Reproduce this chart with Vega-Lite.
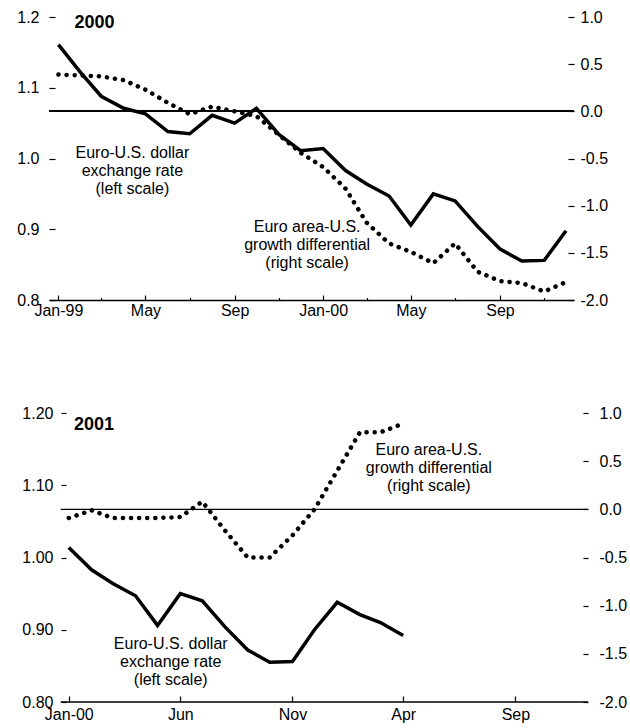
{
  "$schema": "https://vega.github.io/schema/vega-lite/v6.json",
  "padding": {"left": 16, "top": 9, "right": 5, "bottom": 5},
  "background": "white",
  "config": {
    "view": {"stroke": null},
    "font": "Liberation Sans",
    "axis": {"labelFont": "Liberation Sans", "labelFontSize": 16, "labelColor": "black", "tickColor": "black", "grid": false, "labelOverlap": false, "labelFlush": false, "labelBound": false, "tickWidth": 1.2}
  },
  "datasets": {
    "p1": [
      {"date": "1999-01-01", "rate": 1.161, "diff": 0.39},
      {"date": "1999-02-01", "rate": 1.121, "diff": 0.38},
      {"date": "1999-03-01", "rate": 1.088, "diff": 0.37},
      {"date": "1999-04-01", "rate": 1.071, "diff": 0.33},
      {"date": "1999-05-01", "rate": 1.063, "diff": 0.23},
      {"date": "1999-06-01", "rate": 1.038, "diff": 0.09},
      {"date": "1999-07-01", "rate": 1.035, "diff": -0.03},
      {"date": "1999-08-01", "rate": 1.061, "diff": 0.05},
      {"date": "1999-09-01", "rate": 1.050, "diff": 0.0},
      {"date": "1999-10-01", "rate": 1.071, "diff": -0.05},
      {"date": "1999-11-01", "rate": 1.034, "diff": -0.25},
      {"date": "1999-12-01", "rate": 1.011, "diff": -0.44},
      {"date": "2000-01-01", "rate": 1.014, "diff": -0.59},
      {"date": "2000-02-01", "rate": 0.983, "diff": -0.82},
      {"date": "2000-03-01", "rate": 0.964, "diff": -1.18},
      {"date": "2000-04-01", "rate": 0.947, "diff": -1.40},
      {"date": "2000-05-01", "rate": 0.906, "diff": -1.49},
      {"date": "2000-06-01", "rate": 0.950, "diff": -1.61},
      {"date": "2000-07-01", "rate": 0.940, "diff": -1.40},
      {"date": "2000-08-01", "rate": 0.904, "diff": -1.70},
      {"date": "2000-09-01", "rate": 0.872, "diff": -1.80},
      {"date": "2000-10-01", "rate": 0.855, "diff": -1.82},
      {"date": "2000-11-01", "rate": 0.856, "diff": -1.91},
      {"date": "2000-12-01", "rate": 0.898, "diff": -1.81}
    ],
    "p2": [
      {"date": "2000-01-01", "rate": 1.014, "diff": -0.09},
      {"date": "2000-02-01", "rate": 0.983, "diff": -0.01},
      {"date": "2000-03-01", "rate": 0.964, "diff": -0.09},
      {"date": "2000-04-01", "rate": 0.947, "diff": -0.09},
      {"date": "2000-05-01", "rate": 0.906, "diff": -0.09},
      {"date": "2000-06-01", "rate": 0.950, "diff": -0.08},
      {"date": "2000-07-01", "rate": 0.940, "diff": 0.08},
      {"date": "2000-08-01", "rate": 0.904, "diff": -0.22},
      {"date": "2000-09-01", "rate": 0.872, "diff": -0.50},
      {"date": "2000-10-01", "rate": 0.855, "diff": -0.50},
      {"date": "2000-11-01", "rate": 0.856, "diff": -0.27},
      {"date": "2000-12-01", "rate": 0.900, "diff": 0.0},
      {"date": "2001-01-01", "rate": 0.938, "diff": 0.40},
      {"date": "2001-02-01", "rate": 0.921, "diff": 0.80},
      {"date": "2001-03-01", "rate": 0.910, "diff": 0.80},
      {"date": "2001-04-01", "rate": 0.892, "diff": 0.89}
    ],
    "span2": [{"start": "1999-12-21", "end": "2001-12-09", "rate": 0.8, "diff": 0}],
    "notes1": [
      {"date": "1999-04-13", "rate": 1.0078, "label": "Euro-U.S. dollar\nexchange rate\n(left scale)"},
      {"date": "1999-12-10", "rate": 0.9032, "label": "Euro area-U.S.\ngrowth differential\n(right scale)"}
    ],
    "title1": [{"date": "1999-01-23", "rate": 1.1915, "label": "2000"}],
    "notes2": [
      {"date": "2000-05-19", "rate": 0.8806, "label": "Euro-U.S. dollar\nexchange rate\n(left scale)"},
      {"date": "2001-05-06", "rate": 1.1486, "label": "Euro area-U.S.\ngrowth differential\n(right scale)"}
    ],
    "title2": [{"date": "2000-01-08", "rate": 1.1833, "label": "2001"}]
  },
  "concat": [
    {
      "width": 525,
      "height": 283,
      "resolve": {"scale": {"y": "independent"}},
      "layer": [
        {
          "layer": [
            {
              "data": {"name": "p1"},
              "mark": {"type": "rule", "color": "black", "strokeWidth": 1},
              "encoding": {"y": {"datum": 0, "type": "quantitative"}}
            },
            {
              "data": {"name": "p1"},
              "mark": {"type": "line", "color": "black", "strokeWidth": 4.5, "strokeDash": [0.1, 8], "strokeCap": "round"},
              "encoding": {
                "x": {"field": "date", "type": "temporal"},
                "y": {"field": "diff", "type": "quantitative", "scale": {"domain": [-2, 1], "nice": false, "zero": false},
                  "axis": {"orient": "right", "title": null, "domain": false,
                    "values": [-2, -1.75, -1.5, -1.25, -1, -0.75, -0.5, -0.25, 0, 0.25, 0.5, 0.75, 1],
                    "labelExpr": "abs(datum.value*2 - round(datum.value*2)) < 0.001 ? replace(format(datum.value, '.1f'), '\u2212', '-') : ''",
                    "tickSize": -6,
                    "tickDash": {"condition": {"test": "abs(datum.value*2 - round(datum.value*2)) < 0.001", "value": [6, 0]}, "value": [0, 3, 2.5, 20]},
                    "labelPadding": 12}}
              }
            }
          ]
        },
        {
          "layer": [
            {
              "data": {"name": "p1"},
              "mark": {"type": "line", "color": "black", "strokeWidth": 3.5},
              "encoding": {
                "x": {"field": "date", "type": "temporal",
                  "scale": {"type": "utc", "domain": [{"year": 1998, "month": 12, "date": 19, "utc": true}, {"year": 2000, "month": 12, "date": 12, "utc": true}]},
                  "axis": {"title": null, "orient": "bottom", "domainColor": "black", "domainWidth": 1.5,
                    "values": [
                      {"year": 1999, "month": 1, "date": 1, "utc": true}, {"year": 1999, "month": 2, "date": 1, "utc": true},
                      {"year": 1999, "month": 3, "date": 1, "utc": true}, {"year": 1999, "month": 4, "date": 1, "utc": true},
                      {"year": 1999, "month": 5, "date": 1, "utc": true}, {"year": 1999, "month": 6, "date": 1, "utc": true},
                      {"year": 1999, "month": 7, "date": 1, "utc": true}, {"year": 1999, "month": 8, "date": 1, "utc": true},
                      {"year": 1999, "month": 9, "date": 1, "utc": true}, {"year": 1999, "month": 10, "date": 1, "utc": true},
                      {"year": 1999, "month": 11, "date": 1, "utc": true}, {"year": 1999, "month": 12, "date": 1, "utc": true},
                      {"year": 2000, "month": 1, "date": 1, "utc": true}, {"year": 2000, "month": 2, "date": 1, "utc": true},
                      {"year": 2000, "month": 3, "date": 1, "utc": true}, {"year": 2000, "month": 4, "date": 1, "utc": true},
                      {"year": 2000, "month": 5, "date": 1, "utc": true}, {"year": 2000, "month": 6, "date": 1, "utc": true},
                      {"year": 2000, "month": 7, "date": 1, "utc": true}, {"year": 2000, "month": 8, "date": 1, "utc": true},
                      {"year": 2000, "month": 9, "date": 1, "utc": true}, {"year": 2000, "month": 10, "date": 1, "utc": true},
                      {"year": 2000, "month": 11, "date": 1, "utc": true}, {"year": 2000, "month": 12, "date": 1, "utc": true}
                    ],
                    "labelExpr": "utcmonth(datum.value) % 4 == 0 ? utcFormat(datum.value, utcmonth(datum.value) == 0 ? '%b-%y' : '%b') : ''",
                    "tickSize": -5,
                    "tickDash": {"condition": {"test": "utcmonth(datum.value) % 4 == 0", "value": [5, 0]}, "value": [2.5, 20]},
                    "labelPadding": 7}},
                "y": {"field": "rate", "type": "quantitative", "scale": {"domain": [0.8, 1.2], "nice": false, "zero": false},
                  "axis": {"orient": "left", "title": null, "domain": false,
                    "values": [0.8, 0.85, 0.9, 0.95, 1.0, 1.05, 1.1, 1.15, 1.2],
                    "labelExpr": "abs(datum.value*10 - round(datum.value*10)) < 0.001 ? format(datum.value, '.1f') : ''",
                    "tickSize": -6,
                    "tickDash": {"condition": {"test": "abs(datum.value*10 - round(datum.value*10)) < 0.001", "value": [6, 0]}, "value": [2.5, 20]},
                    "labelPadding": 16}}
              }
            },
            {
              "data": {"name": "notes1"},
              "mark": {"type": "text", "fontSize": 16, "lineBreak": "\n", "lineHeight": 18, "align": "center", "baseline": "middle", "color": "black", "font": "Liberation Sans"},
              "encoding": {
                "x": {"field": "date", "type": "temporal"},
                "y": {"field": "rate", "type": "quantitative"},
                "text": {"field": "label"}
              }
            },
            {
              "data": {"name": "title1"},
              "mark": {"type": "text", "fontSize": 18, "fontWeight": "bold", "align": "left", "baseline": "middle", "color": "black", "font": "Liberation Sans"},
              "encoding": {
                "x": {"field": "date", "type": "temporal"},
                "y": {"field": "rate", "type": "quantitative"},
                "text": {"field": "label"}
              }
            }
          ]
        }
      ]
    },
    {
      "width": 539,
      "height": 289,
      "resolve": {"scale": {"y": "independent"}},
      "layer": [
        {
          "layer": [
            {
              "data": {"name": "span2"},
              "mark": {"type": "rule", "color": "black", "strokeWidth": 1.2},
              "encoding": {
                "x": {"field": "start", "type": "temporal"},
                "x2": {"field": "end"},
                "y": {"field": "diff", "type": "quantitative"}
              }
            },
            {
              "data": {"name": "p2"},
              "mark": {"type": "line", "color": "black", "strokeWidth": 4.5, "strokeDash": [0.1, 8], "strokeCap": "round"},
              "encoding": {
                "x": {"field": "date", "type": "temporal"},
                "y": {"field": "diff", "type": "quantitative", "scale": {"domain": [-2, 1], "nice": false, "zero": false},
                  "axis": {"orient": "right", "title": null, "domain": false,
                    "values": [-2, -1.75, -1.5, -1.25, -1, -0.75, -0.5, -0.25, 0, 0.25, 0.5, 0.75, 1],
                    "labelExpr": "abs(datum.value*2 - round(datum.value*2)) < 0.001 ? replace(format(datum.value, '.1f'), '\u2212', '-') : ''",
                    "tickSize": -5,
                    "tickDash": {"condition": {"test": "abs(datum.value*2 - round(datum.value*2)) < 0.001", "value": [5, 0]}, "value": [0, 2, 2.5, 20]},
                    "labelPadding": 16}}
              }
            }
          ]
        },
        {
          "layer": [
            {
              "data": {"name": "span2"},
              "mark": {"type": "rule", "color": "black", "strokeWidth": 1.5},
              "encoding": {
                "x": {"field": "start", "type": "temporal"},
                "x2": {"field": "end"},
                "y": {"field": "rate", "type": "quantitative"}
              }
            },
            {
              "data": {"name": "p2"},
              "mark": {"type": "line", "color": "black", "strokeWidth": 3.5},
              "encoding": {
                "x": {"field": "date", "type": "temporal",
                  "scale": {"type": "utc", "domain": [{"year": 1999, "month": 12, "date": 5, "utc": true}, {"year": 2001, "month": 12, "date": 9, "utc": true}]},
                  "axis": {"title": null, "orient": "bottom", "domain": false,
                    "values": [
                      {"year": 2000, "month": 1, "date": 1, "utc": true}, {"year": 2000, "month": 6, "date": 1, "utc": true},
                      {"year": 2000, "month": 11, "date": 1, "utc": true}, {"year": 2001, "month": 4, "date": 1, "utc": true},
                      {"year": 2001, "month": 9, "date": 1, "utc": true}
                    ],
                    "labelExpr": "utcFormat(datum.value, utcmonth(datum.value) == 0 ? '%b-%y' : '%b')",
                    "tickSize": -6,
                    "labelPadding": 10}},
                "y": {"field": "rate", "type": "quantitative", "scale": {"domain": [0.8, 1.2], "nice": false, "zero": false},
                  "axis": {"orient": "left", "title": null, "domain": false, "offset": -12,
                    "values": [0.8, 0.85, 0.9, 0.95, 1.0, 1.05, 1.1, 1.15, 1.2],
                    "labelExpr": "abs(datum.value*10 - round(datum.value*10)) < 0.001 ? format(datum.value, '.2f') : ''",
                    "tickSize": -5,
                    "tickDash": {"condition": {"test": "abs(datum.value*10 - round(datum.value*10)) < 0.001", "value": [5, 0]}, "value": [2.5, 20]},
                    "labelPadding": 13}}
              }
            },
            {
              "data": {"name": "notes2"},
              "mark": {"type": "text", "fontSize": 16, "lineBreak": "\n", "lineHeight": 18, "align": "center", "baseline": "middle", "color": "black", "font": "Liberation Sans"},
              "encoding": {
                "x": {"field": "date", "type": "temporal"},
                "y": {"field": "rate", "type": "quantitative"},
                "text": {"field": "label"}
              }
            },
            {
              "data": {"name": "title2"},
              "mark": {"type": "text", "fontSize": 18, "fontWeight": "bold", "align": "left", "baseline": "middle", "color": "black", "font": "Liberation Sans"},
              "encoding": {
                "x": {"field": "date", "type": "temporal"},
                "y": {"field": "rate", "type": "quantitative"},
                "text": {"field": "label"}
              }
            }
          ]
        }
      ]
    }
  ],
  "columns": 1,
  "spacing": 87
}
